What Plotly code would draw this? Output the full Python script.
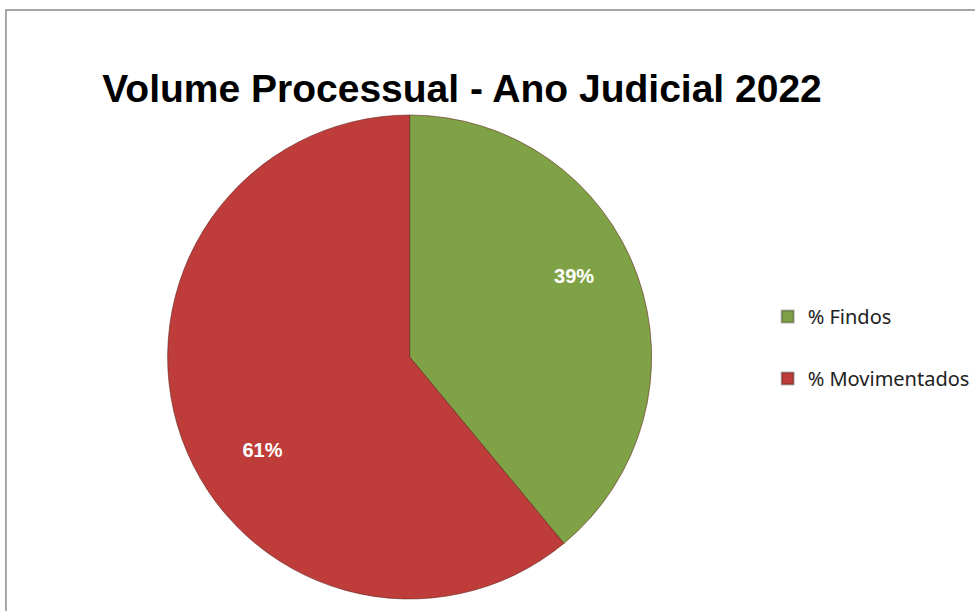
import plotly.graph_objects as go

labels = ["% Findos", "% Movimentados"]
values = [39, 61]
colors = ["#80A246", "#BE3D3A"]
title_text = "Volume Processual - Ano Judicial 2022"

W, H = 975, 611
NB = "\u00a0"

# label templates: padding shifts the label outward, like the original's best-fit placement
templates = [
    NB * 17 + "%{percent}<br>" + NB + "<br>" + NB + "<br>" + NB,
    NB + "<br>" + NB + "<br>" + NB + "<br>" + NB + "<br>%{percent}" + NB * 12,
]

fig = go.Figure()
fig.add_trace(go.Pie(
    labels=labels,
    values=values,
    sort=False,
    direction="clockwise",
    rotation=0,
    marker=dict(colors=colors, line=dict(color="rgba(90,30,25,0.55)", width=1)),
    texttemplate=templates,
    textposition="inside",
    insidetextorientation="horizontal",
    textfont=dict(family="Liberation Sans", size=20, color="white", weight="bold"),
    domain=dict(x=[(413 - 244) / W, (413 + 244) / W], y=[1 - (357 + 244) / H, 1 - (357 - 244) / H]),
    showlegend=False,
    hoverinfo="label+percent",
))

# legend entries (one group per slice so they can be spaced apart)
for lab, col in zip(labels, colors):
    fig.add_trace(go.Scatter(
        x=[None], y=[None], mode="markers", name=lab, legendgroup=lab,
        marker=dict(symbol="square", size=10, color=col, line=dict(color="rgba(0,0,0,0.3)", width=1)),
    ))

fig.update_layout(
    width=W, height=H,
    margin=dict(l=0, r=0, t=0, b=0),
    paper_bgcolor="white",
    plot_bgcolor="white",
    xaxis=dict(visible=False),
    yaxis=dict(visible=False),
    title=dict(text=title_text, x=462 / W, xanchor="center", y=1 - 88 / H, yanchor="middle",
               font=dict(family="Liberation Sans", size=39, color="black", weight="bold")),
    legend=dict(x=774 / W, xanchor="left", y=1 - 297 / H, yanchor="top",
                font=dict(family="Noto Sans", size=20, color="#222222"),
                tracegroupgap=33, itemsizing="constant", itemwidth=30, bgcolor="rgba(0,0,0,0)"),
    shapes=[dict(type="rect", xref="paper", yref="paper", x0=6 / W, x1=1.02, y0=-0.02, y1=1 - 10 / H,
                 line=dict(color="#8c8c8c", width=1.5), fillcolor="rgba(0,0,0,0)", layer="below")],
)

fig.write_html("out.html")
